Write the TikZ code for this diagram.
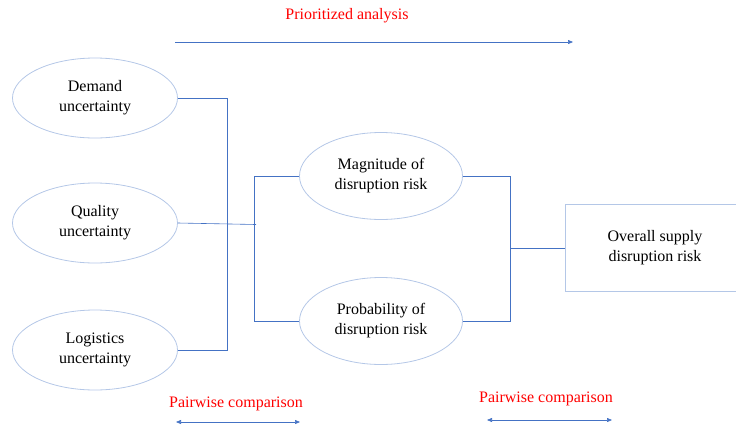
\documentclass[tikz,border=0pt]{standalone}
\usepackage{fontspec}
\setmainfont{Liberation Serif}
\usetikzlibrary{shapes.geometric,arrows.meta,positioning}

\definecolor{rimblue}{HTML}{B4C7E7}
\definecolor{lineblue}{HTML}{4472C4}

\begin{document}
\begin{tikzpicture}[x=1pt,y=-1pt
        , every node/.style={ font=\fontsize{16}{20}\selectfont, align=center }
        , factor/.style={ ellipse, draw=rimblue, thick, inner sep=0pt,
                          minimum width=165pt, minimum height=80pt }
        , riskbox/.style={ rectangle, draw=rimblue, thick, inner sep=0pt,
                           minimum width=180pt, minimum height=87pt }
        , link/.style={ draw=lineblue, semithick }
        , flow/.style={ draw=lineblue, semithick, -{Triangle[length=5pt,width=4pt]} }
        , twoway/.style={ draw=lineblue, semithick,
                          {Triangle[length=5pt,width=4pt]}-{Triangle[length=5pt,width=4pt]} }
        , redtext/.style={ text=red }
        ]
        \useasboundingbox (0,0) rectangle (736,426);

        % uncertainty factors
        \node[factor] (dem)  at (95,98)  {Demand\\uncertainty};
        \node[factor] (qual) at (95,223) {Quality\\uncertainty};
        \node[factor] (log)  at (95,350) {Logistics\\uncertainty};

        % risk components
        \node[factor, minimum width=163pt, minimum height=87pt] (mag)  at (381,176) {Magnitude of\\disruption risk};
        \node[factor, minimum width=163pt, minimum height=87pt] (prob) at (381,321) {Probability of\\disruption risk};

        \node[riskbox] (ovr) at (655,248) {Overall supply\\disruption risk};

        % first bracket
        \draw[link] (dem.east) -- ++(49,0) |- (log.east);
        \coordinate (qj) at (256,224.5);
        \draw[link] (qual.east) -- (qj);

        % second bracket
        \draw[link] (mag.west) -- ++(-44.5,0) |- (prob.west);
        \draw[link] (mag.east) -- ++(47,0) |- (prob.east);
        \coordinate (rj) at (510,248);
        \draw[link] (rj) -- (ovr.west);

        % analysis arrows
        \node[redtext] (prio) at (347,16) {Prioritized analysis};
        \coordinate (pa) at (175,42);
        \coordinate (pb) at (573,42);
        \draw[flow] (pa) -- (pb);

        \node[redtext] (pw1) at (236,404) {Pairwise comparison};
        \coordinate (la) at (176,422);
        \coordinate (lb) at (300,422);
        \draw[twoway] (la) -- (lb);

        \node[redtext] (pw2) at (546,399) {Pairwise comparison};
        \coordinate (ra) at (487,420);
        \coordinate (rb) at (612,420);
        \draw[twoway] (ra) -- (rb);

    \end{tikzpicture}
\end{document}
